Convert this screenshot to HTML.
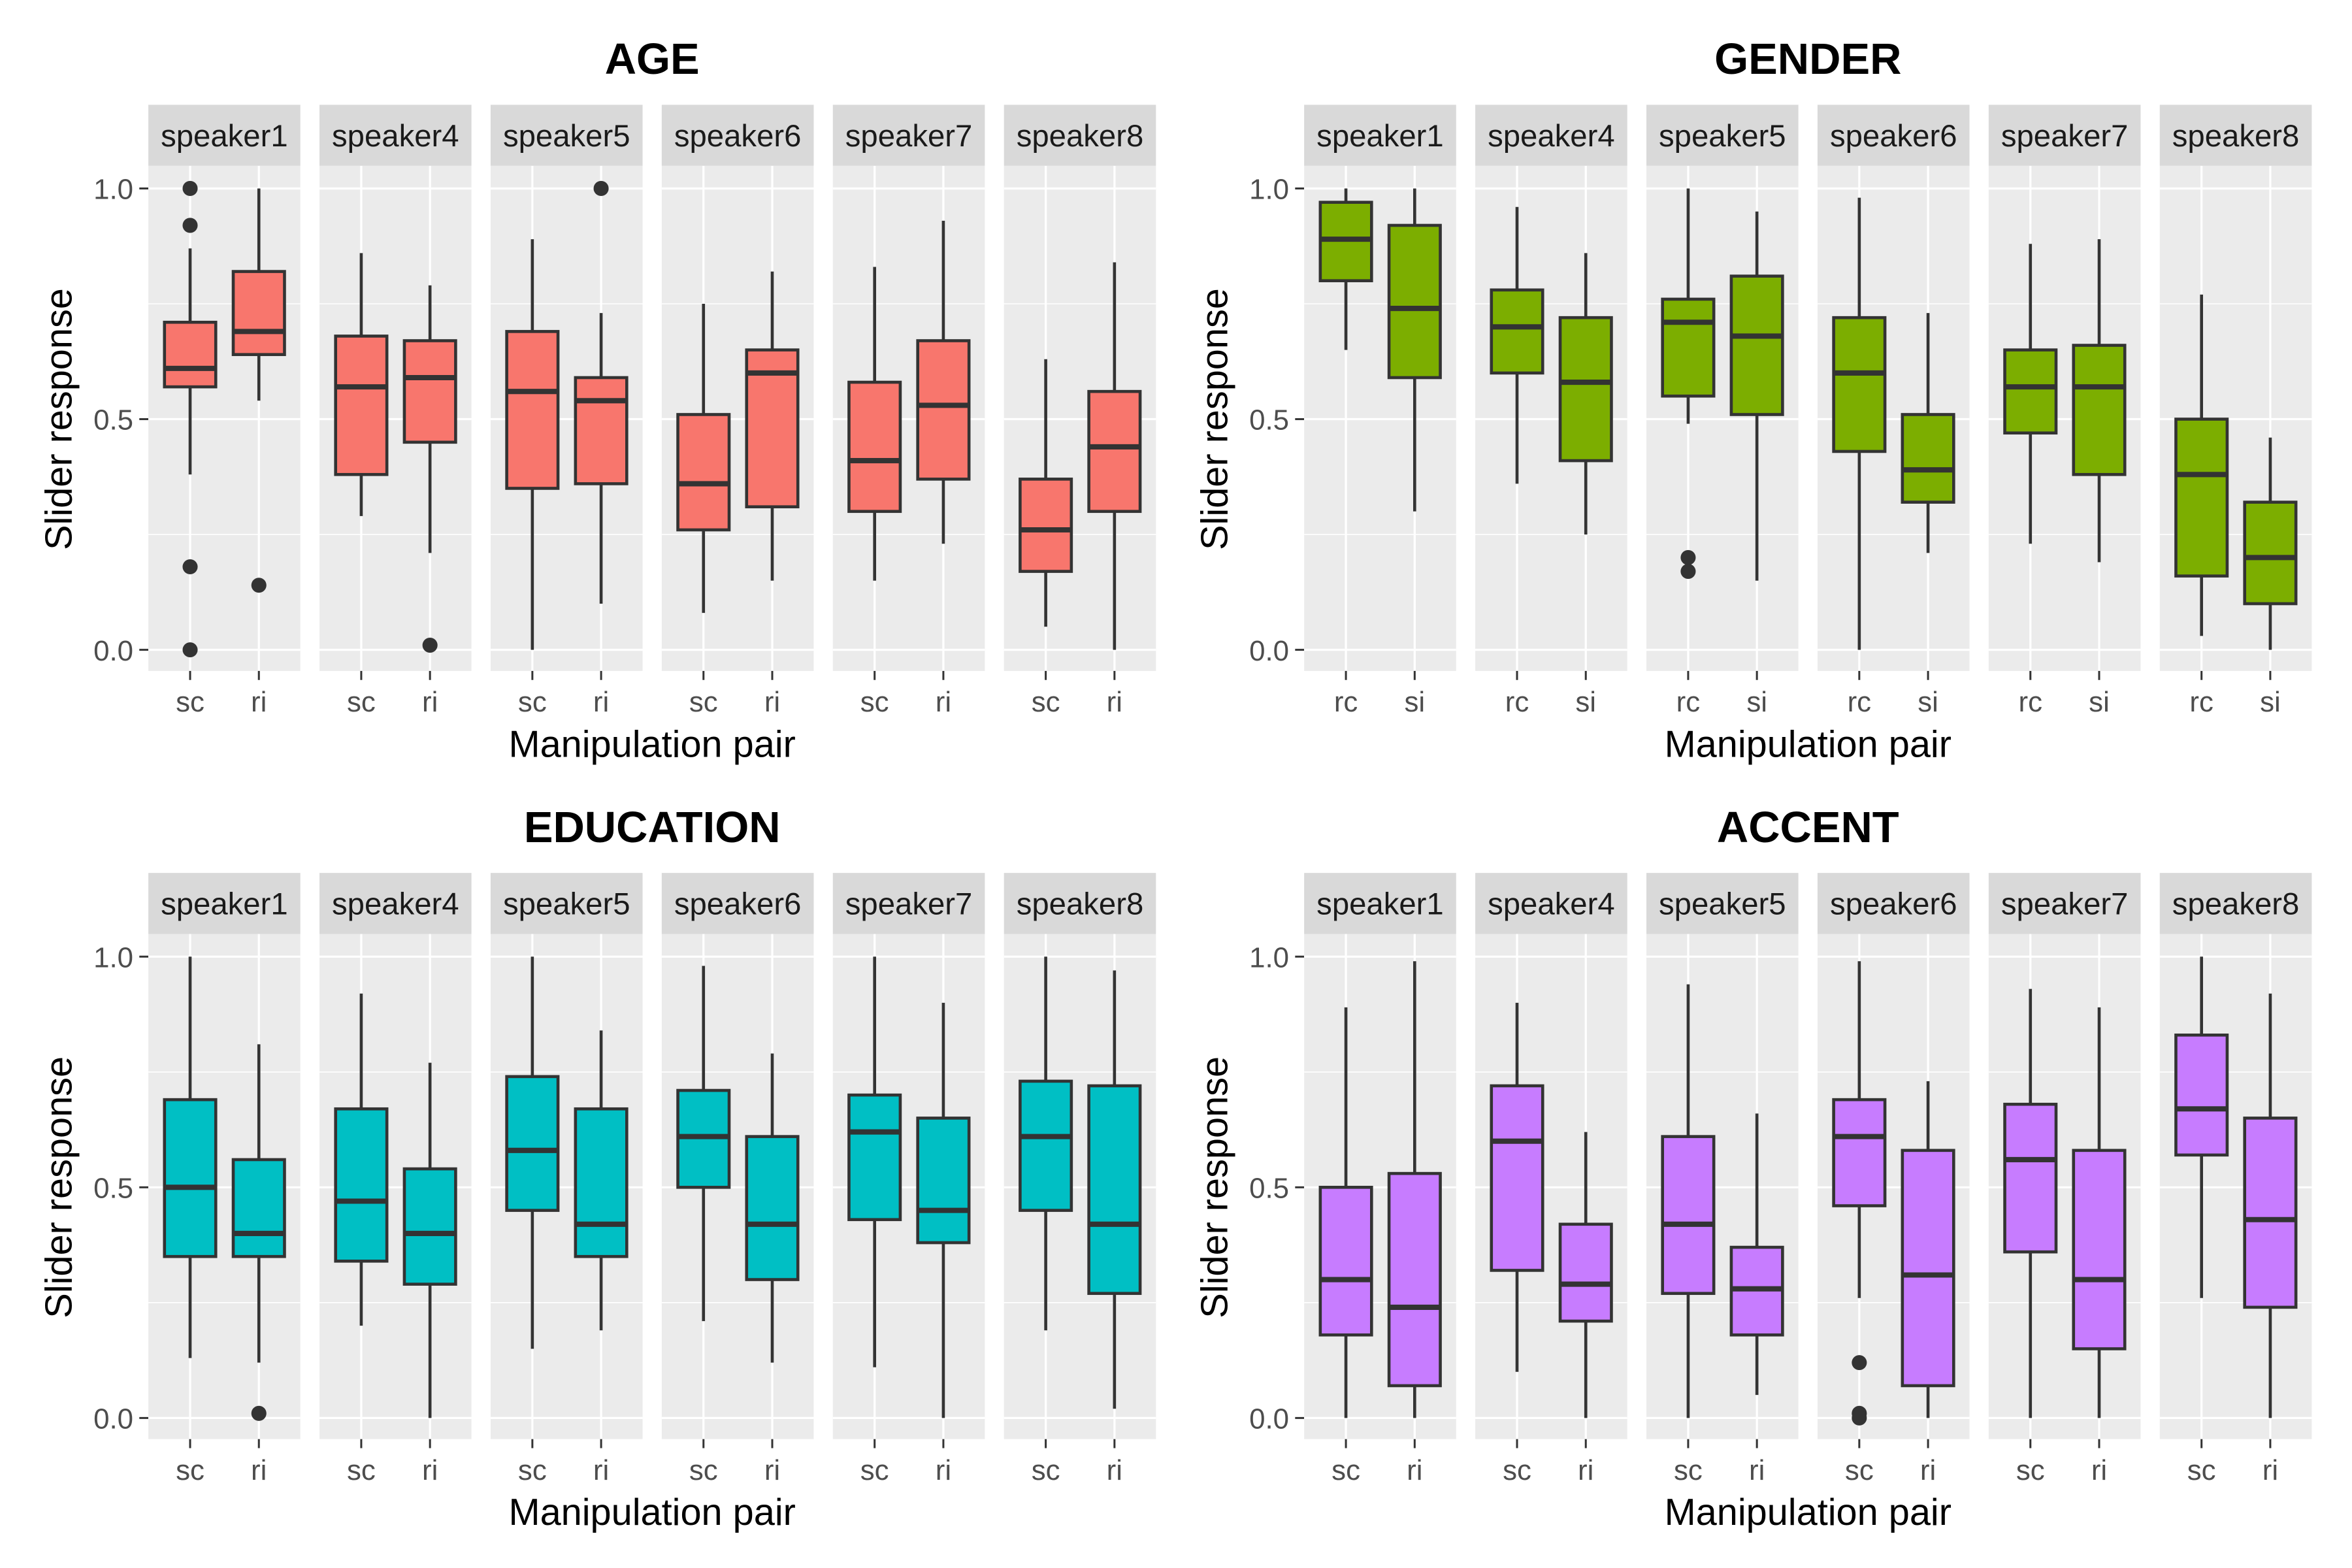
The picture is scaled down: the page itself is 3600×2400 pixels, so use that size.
<!DOCTYPE html>
<html><head><meta charset="utf-8"><style>
html,body{margin:0;padding:0;background:#fff;}
svg{display:block;font-family:"Liberation Sans",Arial,sans-serif;}
</style></head><body>
<svg id="chart" xmlns="http://www.w3.org/2000/svg" width="3600" height="2400" viewBox="0 0 1560 1040"></svg>
<script>
// ---- data: [low whisker, q1, median, q3, high whisker] per box, order: speaker1 sc/ri, speaker4 sc/ri, ...
const speakers = ["speaker1","speaker4","speaker5","speaker6","speaker7","speaker8"];
const ageStats = [
 [0.38,0.57,0.61,0.71,0.87],[0.54,0.64,0.69,0.82,1.0],
 [0.29,0.38,0.57,0.68,0.86],[0.21,0.45,0.59,0.67,0.79],
 [0.0,0.35,0.56,0.69,0.89],[0.10,0.36,0.54,0.59,0.73],
 [0.08,0.26,0.36,0.51,0.75],[0.15,0.31,0.60,0.65,0.82],
 [0.15,0.30,0.41,0.58,0.83],[0.23,0.37,0.53,0.67,0.93],
 [0.05,0.17,0.26,0.37,0.63],[0.0,0.30,0.44,0.56,0.84]];
const ageOutliers = [[1.0,0.92,0.18,0.0],[0.14],[],[0.01],[],[1.0],[],[],[],[],[],[]];
const genderStats = [
 [0.65,0.80,0.89,0.97,1.0],[0.30,0.59,0.74,0.92,1.0],
 [0.36,0.60,0.70,0.78,0.96],[0.25,0.41,0.58,0.72,0.86],
 [0.49,0.55,0.71,0.76,1.0],[0.15,0.51,0.68,0.81,0.95],
 [0.0,0.43,0.60,0.72,0.98],[0.21,0.32,0.39,0.51,0.73],
 [0.23,0.47,0.57,0.65,0.88],[0.19,0.38,0.57,0.66,0.89],
 [0.03,0.16,0.38,0.50,0.77],[0.0,0.10,0.20,0.32,0.46]];
const genderOutliers = [[],[],[],[],[0.20,0.17],[],[],[],[],[],[],[]];
const eduStats = [
 [0.13,0.35,0.50,0.69,1.0],[0.12,0.35,0.40,0.56,0.81],
 [0.20,0.34,0.47,0.67,0.92],[0.0,0.29,0.40,0.54,0.77],
 [0.15,0.45,0.58,0.74,1.0],[0.19,0.35,0.42,0.67,0.84],
 [0.21,0.50,0.61,0.71,0.98],[0.12,0.30,0.42,0.61,0.79],
 [0.11,0.43,0.62,0.70,1.0],[0.0,0.38,0.45,0.65,0.90],
 [0.19,0.45,0.61,0.73,1.0],[0.02,0.27,0.42,0.72,0.97]];
const eduOutliers = [[],[0.01],[],[],[],[],[],[],[],[],[],[]];
const accentStats = [
 [0.0,0.18,0.30,0.50,0.89],[0.0,0.07,0.24,0.53,0.99],
 [0.10,0.32,0.60,0.72,0.90],[0.0,0.21,0.29,0.42,0.62],
 [0.0,0.27,0.42,0.61,0.94],[0.05,0.18,0.28,0.37,0.66],
 [0.26,0.46,0.61,0.69,0.99],[0.0,0.07,0.31,0.58,0.73],
 [0.0,0.36,0.56,0.68,0.93],[0.0,0.15,0.30,0.58,0.89],
 [0.26,0.57,0.67,0.83,1.0],[0.0,0.24,0.43,0.65,0.92]];
const accentOutliers = [[],[],[],[],[],[],[0.12,0.01,0.0],[],[],[],[],[]];
const yTicks = [0,0.5,1.0];
const yTickLabels = ["0.0","0.5","1.0"];

const panels = [
 {title:"AGE",x0:98.4,y0:0,stats:ageStats,out:ageOutliers,cats:["sc","ri"],fill:"#F8766D",key:"age"},
 {title:"GENDER",x0:865,y0:0,stats:genderStats,out:genderOutliers,cats:["rc","si"],fill:"#7CAE00",key:"gender"},
 {title:"EDUCATION",x0:98.4,y0:509.5,stats:eduStats,out:eduOutliers,cats:["sc","ri"],fill:"#00BFC4",key:"education"},
 {title:"ACCENT",x0:865,y0:509.5,stats:accentStats,out:accentOutliers,cats:["sc","ri"],fill:"#C77CFF",key:"accent"}];

const NS="http://www.w3.org/2000/svg";
const svg=document.getElementById("chart");
function mk(tag,attrs,parent,text){const e=document.createElementNS(NS,tag);for(const k in attrs)e.setAttribute(k,attrs[k]);if(text!==undefined)e.textContent=text;(parent||svg).appendChild(e);return e;}
const FW=100.8,STEP=113.5;
panels.forEach(p=>{
  const g=mk("g",{});
  
  
  const yScale=v=>p.y0+431-v*306;
  const top=p.y0+110,bot=p.y0+445;
  const mid=p.x0+(5*STEP+FW)/2;
  const t=mk("text",{x:mid,y:p.y0+49,"text-anchor":"middle","font-size":29,"font-weight":"bold",fill:"#000"},g,p.title);
  
  
  yTicks.forEach((v,i)=>{
    const yl=mk("text",{x:p.x0-10,y:yScale(v)+7,"text-anchor":"end","font-size":19,fill:"#4D4D4D"},g,yTickLabels[i]);
    
    
    mk("line",{x1:p.x0-6,x2:p.x0,y1:yScale(v),y2:yScale(v),stroke:"#333","stroke-width":1.3},g);
  });
  const yt=mk("text",{transform:`translate(${p.x0-51},${yScale(0.5)}) rotate(-90)`,"text-anchor":"middle","font-size":25,fill:"#000"},g,"Slider response");
  
  
  const xt=mk("text",{x:mid,y:p.y0+502,"text-anchor":"middle","font-size":25,fill:"#000"},g,"Manipulation pair");
  
  
  speakers.forEach((s,fi)=>{
    const fx=p.x0+fi*STEP;
    const fg=mk("g",{},g);
    
    
    mk("rect",{x:fx,y:p.y0+69.5,width:FW,height:40.5,fill:"#D9D9D9"},fg);
    const st=mk("text",{x:fx+FW/2,y:p.y0+97,"text-anchor":"middle","font-size":20.5,fill:"#1A1A1A"},fg,s);
    
    
    mk("rect",{x:fx,y:top,width:FW,height:bot-top,fill:"#EBEBEB"},fg);
    [0.25,0.75].forEach(v=>mk("line",{x1:fx,x2:fx+FW,y1:yScale(v),y2:yScale(v),stroke:"#fff","stroke-width":0.7},fg));
    yTicks.forEach(v=>mk("line",{x1:fx,x2:fx+FW,y1:yScale(v),y2:yScale(v),stroke:"#fff","stroke-width":1.4},fg));
    p.cats.forEach((c,ci)=>{
      const cx=fx+27.7+ci*45.6;
      mk("line",{x1:cx,x2:cx,y1:top,y2:bot,stroke:"#fff","stroke-width":1.4},fg);
      mk("line",{x1:cx,x2:cx,y1:bot,y2:bot+6,stroke:"#333","stroke-width":1.3},fg);
      const xl=mk("text",{x:cx,y:p.y0+472,"text-anchor":"middle","font-size":19,fill:"#4D4D4D"},fg,c);
      
      
    });
    p.cats.forEach((c,ci)=>{
      const idx=fi*2+ci, d=p.stats[idx], cx=fx+27.7+ci*45.6, hw=17;
      const bg=mk("g",{},fg);
      
      
      mk("line",{x1:cx,x2:cx,y1:yScale(d[0]),y2:yScale(d[1]),stroke:"#333","stroke-width":2},bg);
      mk("line",{x1:cx,x2:cx,y1:yScale(d[3]),y2:yScale(d[4]),stroke:"#333","stroke-width":2},bg);
      mk("rect",{x:cx-hw,y:yScale(d[3]),width:2*hw,height:yScale(d[1])-yScale(d[3]),fill:p.fill,stroke:"#333","stroke-width":2},bg);
      mk("line",{x1:cx-hw,x2:cx+hw,y1:yScale(d[2]),y2:yScale(d[2]),stroke:"#333","stroke-width":3.5},bg);
      p.out[idx].forEach(v=>{
        const o=mk("circle",{cx:cx,cy:yScale(v),r:5,fill:"#333"},bg);
        
        
      });
    });
  });
});
</script>
</body></html>
